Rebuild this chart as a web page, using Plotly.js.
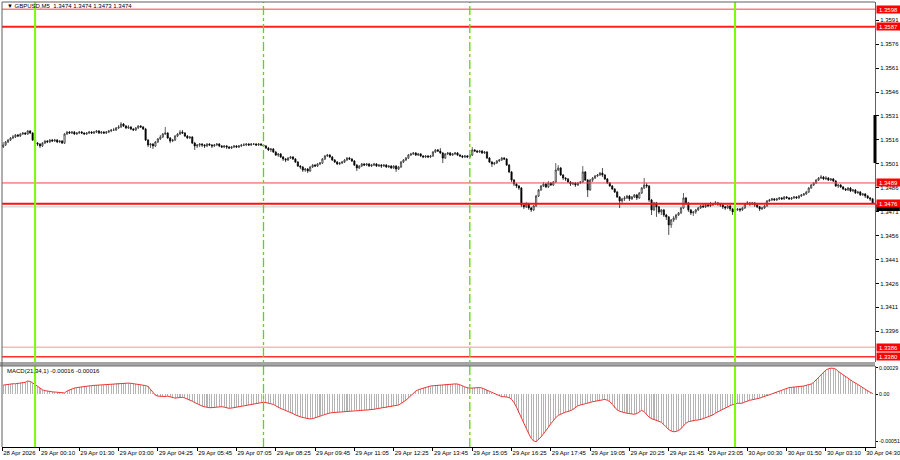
<!DOCTYPE html>
<html><head><meta charset="utf-8">
<script src="https://cdn.plot.ly/plotly-3.0.1.min.js"></script>
<style>html,body{margin:0;padding:0;background:#fff}#chart{width:900px;height:460px}</style>
</head><body><div id="chart"></div>
<script>
// GBPUSD M5 bars (open of each bar = close of previous bar)
const firstOpen = 1.35115;
const barClose = [
1.35128,1.35147,1.35159,1.35172,1.35178,1.35191,1.35184,1.35197,1.35203,1.35197,
1.35216,1.35203,1.35159,1.35140,1.35134,1.35122,1.35140,1.35153,1.35147,1.35159,
1.35153,1.35159,1.35147,1.35153,1.35140,1.35197,1.35209,1.35203,1.35209,1.35197,
1.35203,1.35209,1.35203,1.35197,1.35203,1.35209,1.35203,1.35209,1.35216,1.35203,
1.35209,1.35203,1.35209,1.35216,1.35222,1.35222,1.35235,1.35241,1.35260,1.35247,
1.35235,1.35241,1.35228,1.35222,1.35235,1.35247,1.35241,1.35228,1.35159,1.35128,
1.35134,1.35122,1.35147,1.35166,1.35178,1.35197,1.35203,1.35172,1.35153,1.35159,
1.35184,1.35197,1.35209,1.35203,1.35184,1.35172,1.35178,1.35140,1.35122,1.35128,
1.35134,1.35128,1.35122,1.35134,1.35128,1.35122,1.35128,1.35134,1.35122,1.35115,
1.35122,1.35115,1.35109,1.35115,1.35122,1.35115,1.35122,1.35128,1.35128,1.35134,
1.35128,1.35134,1.35134,1.35128,1.35134,1.35128,1.35122,1.35109,1.35097,1.35103,
1.35084,1.35065,1.35072,1.35053,1.35040,1.35034,1.35046,1.35053,1.35040,1.35021,
1.34996,1.34990,1.34971,1.34977,1.34965,1.34990,1.35002,1.34996,1.35009,1.35015,
1.35040,1.35059,1.35065,1.35053,1.35034,1.35021,1.35009,1.35015,1.35021,1.35034,
1.35046,1.35040,1.35028,1.35002,1.34984,1.34996,1.35009,1.35002,1.35009,1.34996,
1.35002,1.35009,1.34996,1.35002,1.34996,1.35002,1.34990,1.34996,1.34984,1.34996,
1.34977,1.34990,1.35021,1.35034,1.35046,1.35065,1.35072,1.35078,1.35065,1.35072,
1.35059,1.35053,1.35059,1.35053,1.35059,1.35084,1.35097,1.35090,1.35078,1.35046,
1.35072,1.35078,1.35065,1.35072,1.35078,1.35065,1.35059,1.35053,1.35059,1.35053,
1.35065,1.35097,1.35090,1.35084,1.35090,1.35078,1.35084,1.35046,1.35021,1.35009,
1.35015,1.35028,1.35034,1.35046,1.35040,1.35002,1.34959,1.34908,1.34883,1.34871,
1.34858,1.34752,1.34740,1.34758,1.34733,1.34721,1.34746,1.34808,1.34846,1.34871,
1.34883,1.34865,1.34890,1.34877,1.34896,1.34971,1.34984,1.34940,1.34921,1.34915,
1.34896,1.34883,1.34890,1.34877,1.34890,1.34896,1.34959,1.34908,1.34846,1.34908,
1.34921,1.34934,1.34940,1.34952,1.34940,1.34915,1.34890,1.34871,1.34852,1.34833,
1.34802,1.34777,1.34790,1.34796,1.34808,1.34790,1.34802,1.34815,1.34796,1.34827,
1.34858,1.34877,1.34871,1.34783,1.34721,1.34765,1.34740,1.34708,1.34721,1.34689,
1.34677,1.34627,1.34658,1.34670,1.34689,1.34702,1.34733,1.34796,1.34765,1.34721,
1.34702,1.34708,1.34721,1.34733,1.34746,1.34740,1.34752,1.34746,1.34752,1.34758,
1.34765,1.34758,1.34752,1.34740,1.34733,1.34746,1.34727,1.34708,1.34721,1.34727,
1.34721,1.34733,1.34758,1.34765,1.34758,1.34765,1.34752,1.34740,1.34727,1.34733,
1.34746,1.34777,1.34783,1.34790,1.34783,1.34790,1.34796,1.34790,1.34802,1.34796,
1.34790,1.34796,1.34802,1.34796,1.34808,1.34815,1.34821,1.34833,1.34858,1.34877,
1.34890,1.34908,1.34921,1.34927,1.34915,1.34921,1.34908,1.34915,1.34902,1.34871,
1.34877,1.34865,1.34852,1.34846,1.34858,1.34840,1.34846,1.34827,1.34833,1.34815,
1.34821,1.34808,1.34796,1.34790,1.34765];
const barHigh = [
1.35147,1.35153,1.35166,1.35178,1.35191,1.35197,1.35197,1.35203,1.35209,1.35209,
1.35222,1.35222,1.35209,1.35166,1.35147,1.35140,1.35147,1.35159,1.35159,1.35166,
1.35166,1.35166,1.35166,1.35159,1.35159,1.35203,1.35216,1.35216,1.35216,1.35216,
1.35209,1.35216,1.35216,1.35209,1.35209,1.35216,1.35216,1.35216,1.35222,1.35222,
1.35216,1.35216,1.35216,1.35222,1.35228,1.35235,1.35241,1.35253,1.35272,1.35266,
1.35253,1.35253,1.35247,1.35235,1.35241,1.35253,1.35253,1.35247,1.35235,1.35166,
1.35140,1.35140,1.35153,1.35172,1.35191,1.35203,1.35241,1.35209,1.35178,1.35166,
1.35191,1.35203,1.35222,1.35222,1.35209,1.35191,1.35184,1.35184,1.35147,1.35134,
1.35140,1.35140,1.35134,1.35140,1.35140,1.35134,1.35134,1.35140,1.35140,1.35128,
1.35128,1.35128,1.35122,1.35122,1.35128,1.35128,1.35128,1.35134,1.35140,1.35140,
1.35140,1.35140,1.35140,1.35140,1.35140,1.35140,1.35134,1.35128,1.35115,1.35109,
1.35109,1.35090,1.35078,1.35078,1.35059,1.35046,1.35053,1.35059,1.35059,1.35046,
1.35028,1.35002,1.34996,1.34984,1.34984,1.34996,1.35009,1.35009,1.35015,1.35021,
1.35046,1.35065,1.35072,1.35072,1.35059,1.35040,1.35028,1.35021,1.35028,1.35040,
1.35053,1.35053,1.35046,1.35034,1.35009,1.35002,1.35015,1.35015,1.35015,1.35015,
1.35009,1.35015,1.35015,1.35009,1.35009,1.35009,1.35009,1.35002,1.35002,1.35002,
1.35002,1.34996,1.35028,1.35040,1.35053,1.35072,1.35078,1.35084,1.35084,1.35078,
1.35078,1.35065,1.35065,1.35065,1.35065,1.35090,1.35103,1.35103,1.35109,1.35084,
1.35078,1.35084,1.35084,1.35078,1.35084,1.35084,1.35072,1.35065,1.35065,1.35065,
1.35072,1.35115,1.35103,1.35097,1.35097,1.35097,1.35090,1.35090,1.35053,1.35028,
1.35021,1.35034,1.35040,1.35053,1.35053,1.35046,1.35009,1.34965,1.34915,1.34890,
1.34877,1.34865,1.34765,1.34771,1.34765,1.34740,1.34752,1.34815,1.34852,1.34877,
1.34896,1.34890,1.34902,1.34896,1.34902,1.35015,1.35002,1.34990,1.34946,1.34927,
1.34921,1.34902,1.34896,1.34896,1.34896,1.34902,1.34996,1.34965,1.34915,1.34915,
1.34927,1.34940,1.34946,1.34959,1.34984,1.34946,1.34921,1.34896,1.34877,1.34858,
1.34840,1.34808,1.34796,1.34808,1.34815,1.34815,1.34808,1.34821,1.34821,1.34833,
1.34865,1.34921,1.34890,1.34877,1.34790,1.34771,1.34771,1.34746,1.34727,1.34727,
1.34696,1.34683,1.34664,1.34683,1.34696,1.34708,1.34740,1.34827,1.34802,1.34771,
1.34727,1.34714,1.34727,1.34740,1.34752,1.34758,1.34765,1.34758,1.34771,1.34765,
1.34777,1.34771,1.34765,1.34758,1.34746,1.34752,1.34752,1.34733,1.34727,1.34733,
1.34733,1.34740,1.34765,1.34777,1.34771,1.34771,1.34771,1.34758,1.34746,1.34740,
1.34752,1.34783,1.34790,1.34796,1.34796,1.34796,1.34802,1.34802,1.34808,1.34808,
1.34802,1.34802,1.34808,1.34808,1.34815,1.34821,1.34827,1.34840,1.34865,1.34883,
1.34896,1.34915,1.34927,1.34940,1.34934,1.34934,1.34927,1.34921,1.34921,1.34908,
1.34883,1.34883,1.34871,1.34858,1.34865,1.34865,1.34852,1.34852,1.34840,1.34840,
1.34827,1.34827,1.34815,1.34802,1.34796];
const barLow = [
1.35109,1.35122,1.35140,1.35153,1.35166,1.35172,1.35178,1.35178,1.35191,1.35191,
1.35191,1.35197,1.35153,1.35134,1.35122,1.35109,1.35115,1.35134,1.35140,1.35140,
1.35147,1.35147,1.35140,1.35140,1.35134,1.35134,1.35191,1.35197,1.35197,1.35191,
1.35191,1.35197,1.35197,1.35191,1.35191,1.35197,1.35197,1.35197,1.35203,1.35197,
1.35197,1.35197,1.35197,1.35203,1.35209,1.35216,1.35216,1.35228,1.35235,1.35241,
1.35228,1.35228,1.35222,1.35216,1.35216,1.35228,1.35235,1.35222,1.35153,1.35115,
1.35109,1.35103,1.35115,1.35140,1.35159,1.35172,1.35191,1.35166,1.35140,1.35147,
1.35153,1.35178,1.35191,1.35197,1.35178,1.35166,1.35166,1.35134,1.35097,1.35109,
1.35115,1.35115,1.35109,1.35115,1.35122,1.35109,1.35115,1.35122,1.35115,1.35109,
1.35109,1.35103,1.35103,1.35103,1.35109,1.35109,1.35109,1.35115,1.35122,1.35122,
1.35122,1.35122,1.35128,1.35122,1.35122,1.35122,1.35115,1.35103,1.35090,1.35084,
1.35078,1.35059,1.35053,1.35046,1.35028,1.35021,1.35028,1.35040,1.35034,1.35015,
1.34990,1.34977,1.34959,1.34959,1.34952,1.34959,1.34984,1.34990,1.34990,1.35002,
1.35009,1.35034,1.35053,1.35046,1.35028,1.35015,1.35002,1.35002,1.35009,1.35015,
1.35028,1.35034,1.35021,1.34996,1.34965,1.34977,1.34990,1.34996,1.34996,1.34990,
1.34990,1.34996,1.34990,1.34990,1.34984,1.34990,1.34984,1.34984,1.34977,1.34977,
1.34959,1.34971,1.34984,1.35015,1.35028,1.35040,1.35059,1.35065,1.35059,1.35059,
1.35053,1.35046,1.35046,1.35046,1.35046,1.35053,1.35078,1.35084,1.35072,1.35015,
1.35040,1.35065,1.35059,1.35059,1.35065,1.35059,1.35053,1.35046,1.35046,1.35046,
1.35046,1.35059,1.35084,1.35078,1.35078,1.35072,1.35072,1.35040,1.35015,1.34990,
1.35002,1.35009,1.35021,1.35028,1.35034,1.34996,1.34952,1.34896,1.34871,1.34858,
1.34846,1.34740,1.34727,1.34733,1.34721,1.34708,1.34714,1.34740,1.34802,1.34840,
1.34865,1.34858,1.34858,1.34871,1.34871,1.34890,1.34965,1.34934,1.34908,1.34902,
1.34890,1.34871,1.34877,1.34865,1.34871,1.34883,1.34890,1.34902,1.34802,1.34840,
1.34896,1.34915,1.34927,1.34934,1.34927,1.34908,1.34883,1.34865,1.34846,1.34827,
1.34796,1.34733,1.34765,1.34777,1.34790,1.34777,1.34783,1.34796,1.34783,1.34790,
1.34821,1.34852,1.34858,1.34771,1.34689,1.34714,1.34677,1.34696,1.34689,1.34677,
1.34658,1.34564,1.34608,1.34645,1.34658,1.34683,1.34696,1.34727,1.34752,1.34708,
1.34689,1.34683,1.34696,1.34714,1.34727,1.34733,1.34733,1.34740,1.34740,1.34746,
1.34752,1.34746,1.34740,1.34727,1.34721,1.34727,1.34714,1.34689,1.34702,1.34714,
1.34708,1.34714,1.34727,1.34752,1.34746,1.34752,1.34740,1.34733,1.34714,1.34721,
1.34727,1.34740,1.34771,1.34777,1.34777,1.34777,1.34783,1.34783,1.34783,1.34790,
1.34783,1.34783,1.34790,1.34790,1.34790,1.34802,1.34808,1.34815,1.34827,1.34852,
1.34871,1.34883,1.34902,1.34915,1.34908,1.34908,1.34902,1.34902,1.34896,1.34865,
1.34858,1.34858,1.34846,1.34840,1.34840,1.34833,1.34833,1.34821,1.34821,1.34808,
1.34808,1.34796,1.34790,1.34777,1.34758];
// MACD(21,34,1) main = signal
const macdValues = [
0.000100,0.000105,0.000110,0.000110,0.000115,0.000115,0.000120,0.000120,0.000125,0.000130,
0.000145,0.000140,0.000125,0.000105,0.000083,0.000065,0.000050,0.000040,0.000033,0.000029,
0.000027,0.000025,0.000023,0.000022,0.000014,0.000015,0.000036,0.000048,0.000060,0.000068,
0.000073,0.000078,0.000083,0.000086,0.000089,0.000092,0.000095,0.000097,0.000099,0.000100,
0.000101,0.000104,0.000106,0.000109,0.000112,0.000115,0.000119,0.000121,0.000124,0.000126,
0.000125,0.000122,0.000120,0.000117,0.000113,0.000109,0.000105,0.000100,0.000095,0.000086,
0.000050,0.000015,-0.000010,-0.000020,-0.000024,-0.000026,-0.000024,-0.000020,-0.000028,-0.000040,
-0.000042,-0.000038,-0.000034,-0.000033,-0.000040,-0.000050,-0.000058,-0.000075,-0.000090,-0.000105,
-0.000117,-0.000128,-0.000136,-0.000142,-0.000146,-0.000145,-0.000142,-0.000139,-0.000136,-0.000135,
-0.000140,-0.000148,-0.000153,-0.000150,-0.000145,-0.000140,-0.000135,-0.000129,-0.000122,-0.000116,
-0.000112,-0.000109,-0.000104,-0.000098,-0.000092,-0.000088,-0.000087,-0.000090,-0.000094,-0.000098,
-0.000110,-0.000125,-0.000145,-0.000155,-0.000165,-0.000175,-0.000185,-0.000195,-0.000210,-0.000225,
-0.000238,-0.000245,-0.000253,-0.000260,-0.000265,-0.000269,-0.000265,-0.000258,-0.000250,-0.000240,
-0.000230,-0.000220,-0.000210,-0.000204,-0.000200,-0.000198,-0.000195,-0.000193,-0.000192,-0.000190,
-0.000186,-0.000183,-0.000180,-0.000176,-0.000172,-0.000171,-0.000172,-0.000173,-0.000172,-0.000171,
-0.000168,-0.000163,-0.000158,-0.000153,-0.000150,-0.000147,-0.000144,-0.000140,-0.000135,-0.000128,
-0.000122,-0.000117,-0.000100,-0.000084,-0.000065,-0.000040,-0.000015,0.000014,0.000035,0.000050,
0.000058,0.000068,0.000078,0.000086,0.000090,0.000093,0.000096,0.000098,0.000100,0.000104,
0.000108,0.000111,0.000112,0.000113,0.000113,0.000112,0.000105,0.000093,0.000080,0.000070,
0.000065,0.000068,0.000072,0.000076,0.000074,0.000068,0.000056,0.000044,0.000030,0.000018,
0.000005,-0.000010,-0.000022,-0.000026,-0.000026,-0.000027,-0.000035,-0.000055,-0.000090,-0.000140,
-0.000200,-0.000260,-0.000310,-0.000370,-0.000430,-0.000480,-0.000510,-0.000515,-0.000495,-0.000465,
-0.000430,-0.000400,-0.000360,-0.000320,-0.000285,-0.000255,-0.000230,-0.000215,-0.000205,-0.000195,
-0.000188,-0.000178,-0.000165,-0.000145,-0.000125,-0.000117,-0.000108,-0.000100,-0.000095,-0.000089,
-0.000081,-0.000075,-0.000068,-0.000060,-0.000055,-0.000056,-0.000065,-0.000080,-0.000110,-0.000145,
-0.000170,-0.000185,-0.000195,-0.000200,-0.000206,-0.000212,-0.000217,-0.000218,-0.000210,-0.000190,
-0.000175,-0.000190,-0.000220,-0.000250,-0.000265,-0.000275,-0.000285,-0.000295,-0.000305,-0.000330,
-0.000360,-0.000385,-0.000400,-0.000408,-0.000405,-0.000395,-0.000375,-0.000345,-0.000315,-0.000299,
-0.000292,-0.000286,-0.000282,-0.000280,-0.000275,-0.000266,-0.000255,-0.000244,-0.000235,-0.000225,
-0.000205,-0.000190,-0.000175,-0.000160,-0.000146,-0.000135,-0.000124,-0.000113,-0.000103,-0.000098,
-0.000099,-0.000096,-0.000084,-0.000072,-0.000065,-0.000060,-0.000056,-0.000050,-0.000042,-0.000032,
-0.000025,-0.000014,-0.000005,0.000005,0.000015,0.000024,0.000033,0.000040,0.000050,0.000060,
0.000073,0.000076,0.000078,0.000080,0.000083,0.000086,0.000090,0.000098,0.000105,0.000112,
0.000130,0.000155,0.000185,0.000210,0.000240,0.000265,0.000278,0.000285,0.000283,0.000275,
0.000250,0.000230,0.000210,0.000190,0.000172,0.000155,0.000138,0.000123,0.000105,0.000085,
0.000070,0.000053,0.000038,0.000022,0.000009];

// axis ticks and labels
const timeTickBars = [-0.4,15,31,47,63,79,95,111,127,143,159,175,191,207,223,239,255,271,287,303,319,335,351];
const timeTickLabels = ['28 Apr 2026','29 Apr 00:10','29 Apr 01:30','29 Apr 03:00','29 Apr 04:25','29 Apr 05:45','29 Apr 07:05','29 Apr 08:25','29 Apr 09:45','29 Apr 11:05','29 Apr 12:25','29 Apr 13:45','29 Apr 15:05','29 Apr 16:25','29 Apr 17:45','29 Apr 19:05','29 Apr 20:25','29 Apr 21:45','29 Apr 23:05','30 Apr 00:30','30 Apr 01:50','30 Apr 03:10','30 Apr 04:30'];
const priceTicks = [1.3591,1.3576,1.3561,1.3546,1.3531,1.3516,1.3501,1.3486,1.3471,1.3456,1.3441,1.3426,1.3411,1.3396];
const macdTicks = [0.00029, 0, -0.00051];
const macdTickLabels = ['0.00029','0.00','-0.00051'];
// horizontal levels
const levelPrices = [1.3598, 1.3587, 1.3489, 1.3476, 1.3386, 1.3380];
const bidPrice = 1.3474;
// vertical separators (bar index): day starts and session opens
const daySeparatorBars = [13, 298];
const sessionBars = [106, 190];

const levelStyle = [
  {color:'#ff8080', width:1.5}, {color:'#ff2020', width:2},
  {color:'#ff4040', width:1}, {color:'#ff1010', width:2},
  {color:'#ff9090', width:1}, {color:'#ff3030', width:1.5}
];

const N = barClose.length;
const idx = barClose.map((_, i) => i);
const barOpen = [firstOpen].concat(barClose.slice(0, N - 1));
const hi = barHigh.map((h, i) => Math.max(h, barOpen[i], barClose[i]));
const lo = barLow.map((l, i) => Math.min(l, barOpen[i], barClose[i]));

const traces = [
  {type:'candlestick', x: idx, open: barOpen, high: hi, low: lo, close: barClose,
   xaxis:'x', yaxis:'y', whiskerwidth:0, hoverinfo:'skip', showlegend:false,
   increasing:{line:{color:'#202020', width:0.7}, fillcolor:'#ffffff'},
   decreasing:{line:{color:'#000000', width:0.7}, fillcolor:'#000000'}},
  {type:'bar', x: idx.slice(0, macdValues.length), y: macdValues, xaxis:'x', yaxis:'y2',
   marker:{color:'#b4b4b4', line:{width:0}}, width:0.42, hoverinfo:'skip', showlegend:false},
  {type:'scatter', mode:'lines', x: idx.slice(0, macdValues.length), y: macdValues, xaxis:'x', yaxis:'y2',
   line:{color:'#f03535', width:1}, hoverinfo:'skip', showlegend:false}
];

// panel geometry (paper fractions)
const mainBottom = 0.19101, macdTop = 0.18202;

const shapes = [];
levelPrices.forEach((lv, k) => shapes.push({type:'line', xref:'paper', x0:0, x1:1, yref:'y', y0:lv, y1:lv, line:levelStyle[k], layer:'above'}));
shapes.push({type:'line', xref:'paper', x0:0, x1:1, yref:'y', y0:bidPrice, y1:bidPrice, line:{color:'#c8c8c8', width:1}, layer:'below'});
daySeparatorBars.forEach(b => shapes.push({type:'line', xref:'x', x0:b, x1:b, yref:'paper', y0:0, y1:1, line:{color:'#7cfc00', width:2}, layer:'above'}));
sessionBars.forEach(b => shapes.push({type:'line', xref:'x', x0:b, x1:b, yref:'paper', y0:0, y1:1, line:{color:'#55dd00', width:1.3, dash:'dashdot'}, layer:'above'}));
// subwindow separator and frame
shapes.push({type:'rect', xref:'paper', x0:-0.003, x1:1.0, yref:'paper', y0:macdTop, y1:mainBottom, fillcolor:'#a4a4a4', line:{width:0}, layer:'above'});
shapes.push({type:'line', xref:'paper', x0:-0.003, x1:1.0, yref:'paper', y0:macdTop, y1:macdTop, line:{color:'#707070', width:1}, layer:'above'});
shapes.push({type:'line', xref:'paper', x0:0, x1:0, yref:'paper', y0:0, y1:1, line:{color:'#606060', width:1}, layer:'above'});
shapes.push({type:'line', xref:'paper', x0:0, x1:1, yref:'paper', y0:1, y1:1, line:{color:'#606060', width:1}, layer:'above'});
shapes.push({type:'line', xref:'paper', x0:1, x1:1, yref:'paper', y0:0.6382, y1:0.7461, line:{color:'#000000', width:3}, layer:'above'});
// bid price marker box (mostly hidden under the 1.3476 label)
shapes.push({type:'rect', xref:'paper', x0:1.0015, x1:1.0285, yref:'y', y0:bidPrice - 0.00026, y1:bidPrice + 0.00016, fillcolor:'#000000', line:{width:0}, layer:'above'});

const annotations = [];
annotations.push({xref:'paper', yref:'paper', x:0, y:0.991, xshift:3, xanchor:'left', yanchor:'middle', showarrow:false,
  text:'▼ GBPUSD,M5  1.3474 1.3474 1.3473 1.3474', font:{size:6, color:'#000'}});
annotations.push({xref:'paper', yref:'paper', x:0, y:0.1708, xshift:3, xanchor:'left', yanchor:'middle', showarrow:false,
  text:'MACD(21,34,1) -0.00016 -0.00016', font:{size:6, color:'#000'}});
levelPrices.forEach(lv => annotations.push({xref:'paper', yref:'y', x:1, y:lv, xshift:1, xanchor:'left', yanchor:'middle', showarrow:false,
  text:lv.toFixed(4), bgcolor:'#ff0000', font:{size:6, color:'#ffffff'}, width:22, height:6, borderpad:0.5}));

const layout = {
  width:900, height:460, margin:{l:2, r:25, t:2, b:13, pad:0},
  paper_bgcolor:'#ffffff', plot_bgcolor:'#ffffff', showlegend:false,
  font:{family:'"Liberation Sans", Arial, sans-serif', size:6, color:'#000'},
  xaxis:{range:[-0.47, 354.98], anchor:'y2', showgrid:false, zeroline:false, showline:true, linecolor:'#000', linewidth:1,
    ticks:'outside', ticklen:3, tickcolor:'#000', tickvals:timeTickBars, ticktext:timeTickLabels, tickangle:0,
    ticklabelposition:'outside right', ticklabeloverflow:'allow', tickfont:{size:6}, rangeslider:{visible:false}, fixedrange:true},
  yaxis:{domain:[mainBottom, 1], range:[1.33767, 1.36025], side:'right', showgrid:false, zeroline:false,
    showline:true, linecolor:'#606060', linewidth:1, ticks:'outside', ticklen:3, tickcolor:'#000',
    tickvals:priceTicks, ticktext:priceTicks.map(v => v.toFixed(4)), tickfont:{size:6}, fixedrange:true},
  yaxis2:{domain:[0, macdTop], range:[-0.0005744, 0.0003084], side:'right', showgrid:false, zeroline:false,
    showline:true, linecolor:'#606060', linewidth:1, ticks:'outside', ticklen:2, tickcolor:'#000',
    tickvals:macdTicks, ticktext:macdTickLabels, tickfont:{size:5.3}, fixedrange:true},
  bargap:0, shapes:shapes, annotations:annotations
};

Plotly.newPlot('chart', traces, layout, {displayModeBar:false, staticPlot:true});
</script>
</body></html>
